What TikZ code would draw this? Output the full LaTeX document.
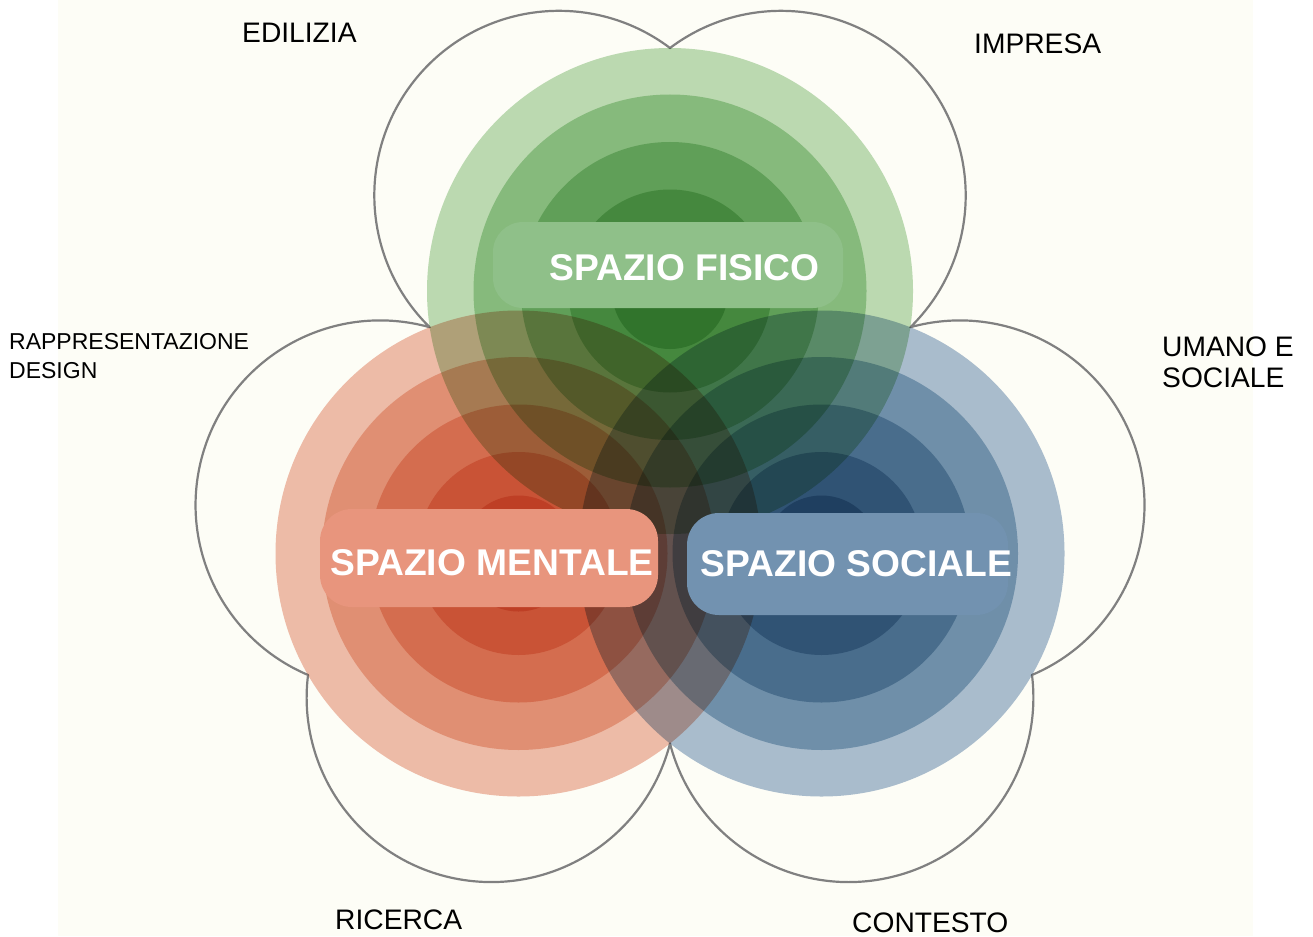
\documentclass[tikz,border=0pt]{standalone}
\usepackage{fontspec}
\setmainfont{Liberation Sans}
\definecolor{cream}{RGB}{253,253,246}
\definecolor{lobeline}{RGB}{128,128,128}
\definecolor{gA}{RGB}{189,219,183}
\definecolor{gR}{RGB}{184,219,181}
\definecolor{rA}{RGB}{239,189,174}
\definecolor{rR}{RGB}{242,196,176}
\definecolor{bA}{RGB}{171,190,212}
\definecolor{bR}{RGB}{168,195,212}
\definecolor{gbox}{RGB}{143,192,137}
\definecolor{rbox}{RGB}{232,149,125}
\definecolor{bbox}{RGB}{114,146,176}
\begin{document}
\begin{tikzpicture}[x=1pt,y=-1pt,
  lobe/.style={fill=cream, draw=lobeline, line width=2.2pt, line join=round},
  lbl/.style={font=\fontsize{28.2}{32}\selectfont, text=black, inner sep=0pt, anchor=west},
  smalllbl/.style={font=\fontsize{23}{26}\selectfont, text=black, inner sep=0pt, anchor=west},
  title/.style={font=\bfseries\fontsize{37.2}{40}\selectfont, text=white, inner sep=0pt},
  pill/.style={draw=none, rounded corners=#1},
]
\useasboundingbox (0,0) rectangle (1313,936);
\fill[white] (0,0) rectangle (1313,936);
\fill[cream] (58,0) rectangle (1253,936);

\coordinate (G) at (670,291);
\coordinate (R) at (518.5,553.5);
\coordinate (B) at (821.5,553.5);

% flower of six lobes
\filldraw[lobe] (670,48)
  arc[start angle=53, end angle=225.55, radius=184.6pt]
  arc[start angle=74.45, end angle=247, radius=184.6pt]
  arc[start angle=173, end angle=345.55, radius=184.6pt]
  arc[start angle=194.45, end angle=367, radius=184.6pt]
  arc[start angle=293, end angle=465.55, radius=184.6pt]
  arc[start angle=-45.55, end angle=127, radius=184.6pt]
  -- cycle;

% concentric circles, multiplied
\begin{scope}[blend mode=multiply]
  \fill[gA] (G) circle[radius=243pt];
  \fill[gR] (G) circle[radius=196.5pt];
  \fill[gR] (G) circle[radius=149pt];
  \fill[gR] (G) circle[radius=101.5pt];
  \fill[gR] (G) circle[radius=58pt];
  \fill[rA] (R) circle[radius=243pt];
  \fill[rR] (R) circle[radius=196.5pt];
  \fill[rR] (R) circle[radius=149pt];
  \fill[rR] (R) circle[radius=101.5pt];
  \fill[rR] (R) circle[radius=58pt];
  \fill[bA] (B) circle[radius=243pt];
  \fill[bR] (B) circle[radius=196.5pt];
  \fill[bR] (B) circle[radius=149pt];
  \fill[bR] (B) circle[radius=101.5pt];
  \fill[bR] (B) circle[radius=58pt];
\end{scope}

% label pills
\fill[gbox, pill=30pt] (493,222) rectangle (843,308);
\fill[rbox, pill=32pt] (320,509) rectangle (658,607);
\fill[bbox, pill=32pt] (687,513) rectangle (1008,615);

\node[title] (fisico) at (684.5,267.5) {SPAZIO FISICO};
\node[title] (mentale) at (492,563) {SPAZIO MENTALE};
\node[title] (socialespace) at (856.5,564) {SPAZIO SOCIALE};

% outer labels
\node[lbl] (edilizia) at (242,33) {EDILIZIA};
\node[lbl] (impresa) at (974,44) {IMPRESA};
\node[lbl] (umano) at (1162,346.5) {UMANO E};
\node[lbl] (sociale) at (1162,377.5) {SOCIALE};
\node[smalllbl] (rappr) at (9,342) {RAPPRESENTAZIONE};
\node[smalllbl] (design) at (9,370.5) {DESIGN};
\node[lbl] (ricerca) at (335,920) {RICERCA};
\node[lbl] (contesto) at (852,922.5) {CONTESTO};
\end{tikzpicture}
\end{document}
